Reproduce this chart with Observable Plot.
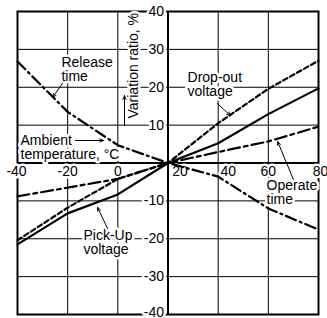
<!DOCTYPE html>
<html><head><meta charset="utf-8">
<script src="https://cdn.jsdelivr.net/npm/d3@7"></script>
<script src="https://cdn.jsdelivr.net/npm/@observablehq/plot@0.6"></script>
<style>html,body{margin:0;padding:0;background:#fff;} svg{display:block;background:#fff}</style>
</head><body><div id="chart"></div>
<script>
// Data
const temps = [-40, -20, 0, 20, 40, 60, 80];
const pickUp = [-21.5, -13.3, -8.3, 0, 5.2, 12.9, 19.7];
const dropOut = [-20.4, -11.8, -4.2, 0, 10.5, 19.6, 27];
const operate = [-8.8, -6.5, -4.2, 0, 2.9, 5.7, 9.6];
const release = [26.8, 13.5, 4.7, 0, -3.6, -12, -17.6];

const xTicks = [-40, -20, 0, 20, 40, 60, 80];
const yTicks = [-40, -30, -20, -10, 10, 20, 30, 40];
const yGrid = [-30, -20, -10, 10, 20, 30];

// Annotations (data coordinates)
const labelText = ["Release\ntime", "Drop-out\nvoltage", "Ambient\ntemperature, °C", "Pick-Up\nvoltage", "Operate\ntime"];
const labelX = [-22.5, 27.8, -38.8, -13.7, 59.3];
const labelY = [28.1, 23.9, 7.3, -17.8, -4.6];

const arrowX1 = [-22.1, -16.9, 2.66, 39.7, -4.1, 70.0];
const arrowY1 = [21.0, 5.94, 9.9, 15.7, -17.3, -4.35];
const arrowX2 = [-26.0, -5.7, 2.66, 44.9, -8.1, 63.7];
const arrowY2 = [17.3, 5.94, 17.8, 12.5, -11.7, 5.68];

const series = [
  {name: "Pick-Up voltage", values: pickUp, dash: null},
  {name: "Drop-out voltage", values: dropOut, dash: "5,3"},
  {name: "Operate time", values: operate, dash: "12,4,4,4"},
  {name: "Release time", values: release, dash: "11,4,2,4"}
];

const labels = labelText.map((t, i) => ({t, x: labelX[i], y: labelY[i]}));
const arrows = arrowX1.map((x1, i) => ({x1, y1: arrowY1[i], x2: arrowX2[i], y2: arrowY2[i]}));
const xOffset = (d) => d === 20 ? 12 : d === 40 ? 10 : d === 80 ? 2 : d === -40 ? -1 : 0;
const yOffset = (d) => d === -40 ? -1.5 : 0;

const font = "Liberation Sans, Arial, Helvetica, sans-serif";

const lineMarks = series.map(s => Plot.line(temps.map((t, i) => ({x: t, y: s.values[i]})), {
  x: "x", y: "y", stroke: "#000", strokeWidth: 2.2,
  strokeDasharray: s.dash == null ? undefined : s.dash
}));

const xLabelMarks = xTicks.map(d => Plot.text([d], {x: v => v, y: () => 0, text: v => String(v),
  lineAnchor: "top", dy: 3, dx: xOffset(d), fontSize: 14, fill: "#000", stroke: "#fff", strokeWidth: 5}));

const yLabelMarks = yTicks.map(d => Plot.text([d], {x: () => 20, y: v => v, text: v => String(v),
  textAnchor: "end", dx: -4, dy: yOffset(d), fontSize: 14, fill: "#000", stroke: "#fff", strokeWidth: 5}));

const chart = Plot.plot({
  width: 327,
  height: 318,
  marginLeft: 17,
  marginRight: 9,
  marginTop: 11,
  marginBottom: 4,
  style: {fontFamily: font, fontSize: "14px", background: "#fff"},
  x: {domain: [-40, 80], axis: null},
  y: {domain: [-40, 40], axis: null},
  marks: [
    Plot.gridX(xTicks, {stroke: "#000", strokeOpacity: 1, strokeWidth: 1}),
    Plot.gridY(yGrid, {stroke: "#000", strokeOpacity: 1, strokeWidth: 1}),
    Plot.frame({stroke: "#000", strokeWidth: 2}),
    Plot.ruleX([20], {stroke: "#000", strokeWidth: 2}),
    Plot.ruleY([0], {stroke: "#000", strokeWidth: 2}),
    ...yLabelMarks,
    ...xLabelMarks,
    Plot.text(labels, {x: "x", y: "y", text: "t", textAnchor: "start", lineAnchor: "top",
      lineHeight: 1.0, fontSize: 14, fill: "#000", stroke: "#fff", strokeWidth: 5}),
    Plot.text(["Variation ratio, %"], {x: () => 6.25, y: () => 11.75, text: d => d, rotate: -90,
      textAnchor: "start", lineAnchor: "middle", fontSize: 14, fill: "#000", stroke: "#fff", strokeWidth: 5}),
    ...lineMarks,
    Plot.arrow(arrows, {x1: "x1", y1: "y1", x2: "x2", y2: "y2", stroke: "#000", strokeWidth: 1,
      headLength: 6, headAngle: 45})
  ]
});
document.getElementById("chart").appendChild(chart);
</script></body></html>
